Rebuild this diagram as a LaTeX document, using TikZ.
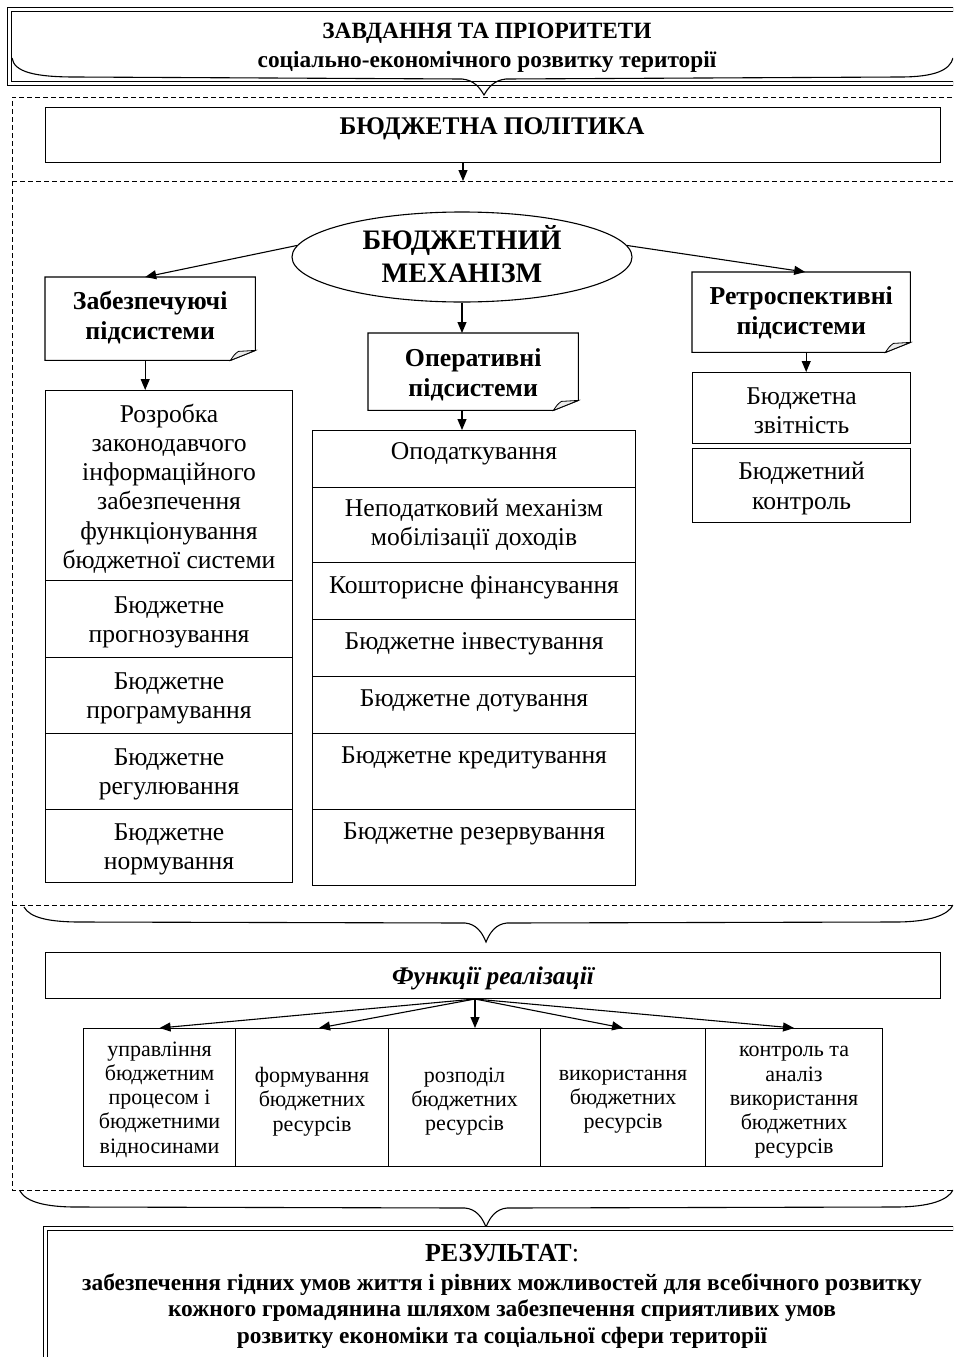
\documentclass[tikz,border=0pt]{standalone}
\usepackage{fontspec}
\setmainfont{Liberation Serif}
\usetikzlibrary{arrows.meta,shapes.geometric,calc}
\newcommand\dogear[1]{%
  \draw[ln] (#1.north west) -- (#1.north east) -- ([yshift=10pt]#1.south east) -- ([xshift=-25pt]#1.south east) -- (#1.south west) -- cycle;
  \draw[line width=0.8pt, fill=gray!15] ([xshift=-25pt]#1.south east) .. controls ([xshift=-21pt,yshift=6pt]#1.south east) .. ([xshift=-17pt,yshift=9pt]#1.south east) -- ([yshift=10pt]#1.south east) -- cycle;}
\begin{document}
\begin{tikzpicture}[x=1pt,y=-1pt,
  ln/.style={line width=1.1pt},
  bx/.style={draw, line width=1.1pt, inner sep=0pt, anchor=north west, align=center},
  nb/.style={inner sep=0pt, anchor=north west, align=center},
  arr/.style={line width=1.1pt, -{Triangle[length=11pt,width=9pt]}},
  dsh/.style={line width=1pt, dash pattern=on 5pt off 3pt},
  brc/.style={line width=1.1pt},
  dbl/.style={draw, double, double distance=3pt, line width=1pt, inner sep=0pt, anchor=north west},
  body/.style={font=\fontsize{25.6}{29.2}\selectfont, align=center, inner sep=0pt},
  small/.style={font=\fontsize{22}{24.2}\selectfont, align=center, inner sep=0pt},
  subh/.style={font=\bfseries\fontsize{25.8}{30}\selectfont, align=center, inner sep=0pt},
]
\useasboundingbox (0,0) rectangle (953,1357);
\clip (0,0) rectangle (953,1357);

% ---------- top box ----------
\node[dbl, minimum width=960pt, minimum height=74pt] (task) at (9,9) {};
\node[font=\bfseries\fontsize{23.3}{27}\selectfont, inner sep=0pt] (task1) at (487,33) {ЗАВДАННЯ ТА ПРІОРИТЕТИ};
\node[font=\bfseries\fontsize{23.3}{26}\selectfont, inner sep=0pt, anchor=base] (task2) at (487,67) {соціально-економічного розвитку території};
\draw[brc] (12,58) .. controls (14,72) and (35,77) .. (75,77) -- (462,79)
  .. controls (474,80) and (480,88) .. (484,95)
  .. controls (488,88) and (494,80) .. (506,79) -- (900,77)
  .. controls (935,77) and (950,70) .. (953,58);

% ---------- dashed frame ----------
\draw[dsh] (960,97) -- (12,97) -- (12,1190) -- (960,1190);
\draw[dsh] (12,181) -- (960,181);
\draw[dsh] (12,905) -- (960,905);

% ---------- budget policy ----------
\node[bx, minimum width=895pt, minimum height=55pt] (pol) at (45,107) {};
\node[font=\bfseries\fontsize{25.4}{30}\selectfont, inner sep=0pt] (polt) at (492,129) {БЮДЖЕТНА ПОЛІТИКА};
\coordinate (dl) at (463,181);
\draw[arr] (dl |- pol.south) -- (dl);

% ---------- mechanism ----------
\node[draw, ellipse, line width=1.1pt, minimum width=340pt, minimum height=90pt, inner sep=0pt] (ell) at (462,257) {};
\node[font=\bfseries\fontsize{28.2}{33}\selectfont, align=center, inner sep=0pt] (ellt) at ([yshift=3pt]ell.center) {БЮДЖЕТНИЙ\\МЕХАНІЗМ};

% ---------- subsystems (note shapes) ----------
\node[nb, minimum width=210pt, minimum height=83pt] (zab) at (45,277) {};
\dogear{zab}
\node[subh] (zabt) at ([yshift=1pt]zab.center) {Забезпечуючі\\підсистеми};
\node[nb, minimum width=210pt, minimum height=77pt] (oper) at (368,333) {};
\dogear{oper}
\node[subh] (opert) at ([yshift=-3pt]oper.center) {Оперативні\\підсистеми};
\node[nb, minimum width=218pt, minimum height=80pt] (retro) at (692,272) {};
\dogear{retro}
\node[subh] (retrot) at ([yshift=-1pt]retro.center) {Ретроспективні\\підсистеми};

\draw[arr] (ell.176) -- ([xshift=-5pt]zab.north);
\draw[arr] (ell.4) -- ([xshift=4pt]retro.north);
\draw[arr] (ell.south) -- (ell.south |- oper.north);

% ---------- left column ----------
\node[bx, minimum width=247pt, minimum height=190pt] (c1) at (45,390) {};
\node[bx, minimum width=247pt, minimum height=77pt] (c2) at (45,580) {};
\node[bx, minimum width=247pt, minimum height=76pt] (c3) at (45,657) {};
\node[bx, minimum width=247pt, minimum height=76pt] (c4) at (45,733) {};
\node[bx, minimum width=247pt, minimum height=73pt] (c5) at (45,809) {};
\node[body] (c1t) at ([yshift=-3pt]c1.center) {Розробка\\законодавчого\\інформаційного\\забезпечення\\функціонування\\бюджетної системи};
\node[body] (c2t) at ([yshift=-3pt]c2.center) {Бюджетне\\прогнозування};
\node[body] (c3t) at ([yshift=-3pt]c3.center) {Бюджетне\\програмування};
\node[body] (c4t) at ([yshift=-3pt]c4.center) {Бюджетне\\регулювання};
\node[body] (c5t) at ([yshift=-3pt]c5.center) {Бюджетне\\нормування};
\coordinate (zs) at ([xshift=-5pt]zab.south);
\draw[arr] (zs) -- (zs |- c1.north);

% ---------- middle column ----------
\node[bx, minimum width=323pt, minimum height=57pt] (m1) at (312,430) {};
\node[bx, minimum width=323pt, minimum height=75pt] (m2) at (312,487) {};
\node[bx, minimum width=323pt, minimum height=57pt] (m3) at (312,562) {};
\node[bx, minimum width=323pt, minimum height=57pt] (m4) at (312,619) {};
\node[bx, minimum width=323pt, minimum height=57pt] (m5) at (312,676) {};
\node[bx, minimum width=323pt, minimum height=76pt] (m6) at (312,733) {};
\node[bx, minimum width=323pt, minimum height=76pt] (m7) at (312,809) {};
\node[body] (m1t) at ([yshift=-24pt]m1.north) {Оподаткування};
\node[body] (m2t) at ([yshift=-38pt]m2.north) {Неподатковий механізм\\мобілізації доходів};
\node[body] (m3t) at ([yshift=-25pt]m3.north) {Кошторисне фінансування};
\node[body] (m4t) at ([yshift=-25pt]m4.north) {Бюджетне інвестування};
\node[body] (m5t) at ([yshift=-25pt]m5.north) {Бюджетне дотування};
\node[body] (m6t) at ([yshift=-25pt]m6.north) {Бюджетне кредитування};
\node[body] (m7t) at ([yshift=-25pt]m7.north) {Бюджетне резервування};
\draw[arr] (ell.south |- oper.south) -- (ell.south |- m1.north);

% ---------- right column ----------
\node[bx, minimum width=218pt, minimum height=71pt] (r1) at (692,372) {};
\node[bx, minimum width=218pt, minimum height=74pt] (r2) at (692,448) {};
\node[body] (r1t) at ([yshift=-3pt]r1.center) {Бюджетна\\звітність};
\node[body] (r2t) at ([yshift=-3pt]r2.center) {Бюджетний\\контроль};
\coordinate (rs) at ([xshift=5pt]retro.south);
\draw[arr] (rs) -- (rs |- r1.north);

% ---------- brace 2 ----------
\draw[brc] (24,907) .. controls (30,918) and (50,922) .. (80,922) -- (465,923)
  .. controls (476,924) and (482,932) .. (486,942)
  .. controls (490,932) and (496,924) .. (507,923) -- (895,922)
  .. controls (930,922) and (948,915) .. (953,905);

% ---------- functions ----------
\node[bx, minimum width=895pt, minimum height=46pt] (fn) at (45,952) {};
\node[font=\bfseries\itshape\fontsize{25.4}{28}\selectfont, inner sep=0pt] (fnt) at (493,978) {Функції реалізації};
\coordinate (fs) at (475,999);

\node[bx, minimum width=152pt, minimum height=138pt] (f1) at (83,1028) {};
\node[bx, minimum width=153pt, minimum height=138pt] (f2) at (235,1028) {};
\node[bx, minimum width=152pt, minimum height=138pt] (f3) at (388,1028) {};
\node[bx, minimum width=165pt, minimum height=138pt] (f4) at (540,1028) {};
\node[bx, minimum width=177pt, minimum height=138pt] (f5) at (705,1028) {};
\node[small] (f1t) at ([yshift=-2pt]f1.center) {управління\\бюджетним\\процесом і\\бюджетними\\відносинами};
\node[small] (f2t) at ([yshift=-4pt]f2.center) {формування\\бюджетних\\ресурсів};
\node[small] (f3t) at ([yshift=-4pt]f3.center) {розподіл\\бюджетних\\ресурсів};
\node[small] (f4t) at ([yshift=-4pt]f4.center) {використання\\бюджетних\\ресурсів};
\node[small] (f5t) at ([yshift=-5pt]f5.center) {контроль та\\аналіз\\використання\\бюджетних\\ресурсів};

\draw[arr] (fs) -- (f1.north);
\draw[arr] (fs) -- ([xshift=7pt]f2.north);
\draw[arr] (fs) -- (fs |- f3.north);
\draw[arr] (fs) -- (f4.north);
\draw[arr] (fs) -- (f5.north);

% ---------- brace 3 ----------
\draw[brc] (20,1191) .. controls (26,1202) and (46,1207) .. (76,1207) -- (465,1208)
  .. controls (476,1209) and (482,1217) .. (486,1227)
  .. controls (490,1217) and (496,1209) .. (507,1208) -- (895,1207)
  .. controls (930,1207) and (948,1200) .. (953,1190);

% ---------- result ----------
\node[dbl, minimum width=960pt, minimum height=200pt] (res) at (45,1228) {};
\node[font=\fontsize{26}{30}\selectfont, inner sep=0pt] (rest) at (502,1253) {\textbf{РЕЗУЛЬТАТ}:};
\node[font=\bfseries\fontsize{23.4}{26.8}\selectfont, align=center, inner sep=0pt] (resb) at (502,1311) {забезпечення гідних умов життя і рівних можливостей для всебічного розвитку\\кожного громадянина шляхом забезпечення сприятливих умов\\розвитку економіки та соціальної сфери території};
\end{tikzpicture}
\end{document}
